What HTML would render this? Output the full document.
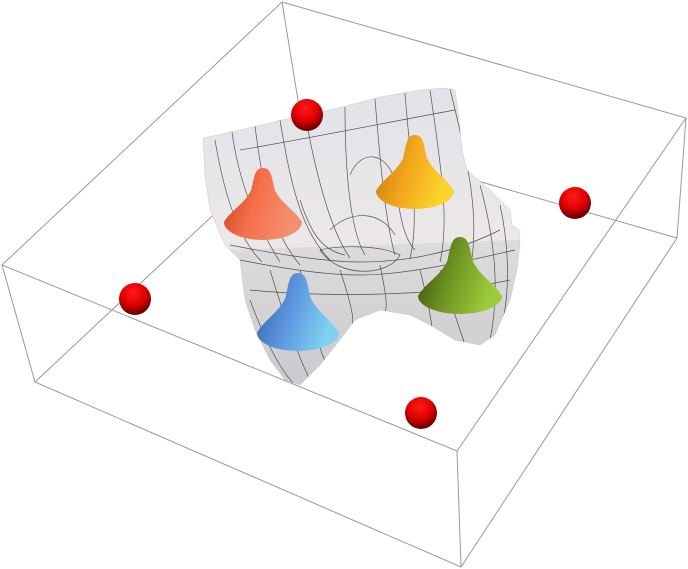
<!DOCTYPE html>
<html><head><meta charset="utf-8"><style>
html,body{margin:0;padding:0;background:#fff;}
svg{display:block;font-family:"Liberation Sans",sans-serif;}
</style></head><body>
<svg id="chart" width="688" height="569" viewBox="0 0 688 569">
<defs>
<radialGradient id="gSphere" cx="0.45" cy="0.3" r="0.7">
<stop offset="0" stop-color="#ff1a1a"/><stop offset="0.55" stop-color="#e00000"/><stop offset="1" stop-color="#600000"/></radialGradient>
<linearGradient id="gSurf" x1="0" y1="0" x2="0" y2="1">
<stop offset="0" stop-color="#e2e2e8"/><stop offset="0.5" stop-color="#ece8e8"/><stop offset="1" stop-color="#d2d0d4"/></linearGradient>
<linearGradient id="gRed" x1="0" y1="0" x2="1" y2="0.3"><stop offset="0" stop-color="#c8401e"/><stop offset="0.5" stop-color="#f6704c"/><stop offset="1" stop-color="#f29070"/></linearGradient>
<linearGradient id="gOrange" x1="0" y1="0" x2="1" y2="0.3"><stop offset="0" stop-color="#c07806"/><stop offset="0.5" stop-color="#f2a61c"/><stop offset="1" stop-color="#fbd52c"/></linearGradient>
<linearGradient id="gGreen" x1="0" y1="0" x2="1" y2="0.3"><stop offset="0" stop-color="#35460a"/><stop offset="0.5" stop-color="#6f9422"/><stop offset="1" stop-color="#9ccc3a"/></linearGradient>
<linearGradient id="gBlue" x1="0" y1="0" x2="1" y2="0.3"><stop offset="0" stop-color="#2e5ca8"/><stop offset="0.5" stop-color="#5e95e0"/><stop offset="1" stop-color="#7ed2f0"/></linearGradient>
<clipPath id="surfClip"><path d="M203,138 L240,130 L290,118 L330,110 L380,97 L420,90 L445,88 L455,90 L458,110 L462,150 L467,170 L490,190 L510,210 L512,225 L519,230 L520,245 L517,270 L510,300 L495,335 L480,345 L455,340 L430,325 L410,315 L380,310 L355,320 L340,340 L320,365 L300,385 L285,380 L270,360 L255,330 L245,300 L240,260 L225,245 L210,210 L205,175 Z"/></clipPath>
</defs>
<g id="box-back" stroke="#999" stroke-width="1" fill="none">
<line x1="35" y1="382" x2="303" y2="131"/><line x1="677" y1="238" x2="303" y2="131"/><line x1="282" y1="2" x2="303" y2="131"/>
</g>
<g id="surface">
<path d="M203,138 L240,130 L290,118 L330,110 L380,97 L420,90 L445,88 L455,90 L458,110 L462,150 L467,170 L490,190 L510,210 L512,225 L519,230 L520,245 L517,270 L510,300 L495,335 L480,345 L455,340 L430,325 L410,315 L380,310 L355,320 L340,340 L320,365 L300,385 L285,380 L270,360 L255,330 L245,300 L240,260 L225,245 L210,210 L205,175 Z" fill="url(#gSurf)" stroke="#ccc" stroke-width="0.5"/>
<g clip-path="url(#surfClip)">
<path d="M230,250 L520,240 L520,400 L230,400 Z" fill="#b8b6bc" opacity="0.25"/>
<g id="mesh" stroke="#222" stroke-width="0.7" fill="none" opacity="0.75"></g>
</g>
</g>
<g id="cones"></g>
<g id="spheres"></g>
<g id="box-front" stroke="#999" stroke-width="1" fill="none">
<polygon points="282,2 686,118 457,451 2,265"/>
<polyline points="2,265 35,382 461,567 677,238 686,118"/>
<line x1="457" y1="451" x2="461" y2="567"/>
</g>
</svg>
<script>
// Red sphere markers (screen-space projected positions)
var sphereX = [307, 575, 135, 421];
var sphereY = [115, 203, 299, 413];
var sphereR = 16;
// Cone peaks
var coneNames = ['red', 'orange', 'green', 'blue'];
var coneX = [263, 415, 460, 298];
var coneBaseY = [222, 191, 296, 333];
var conePeakY = [168, 135, 237, 273];
var coneRx = [39, 39, 42, 41];
var coneFill = ['url(#gRed)', 'url(#gOrange)', 'url(#gGreen)', 'url(#gBlue)'];
var NS = 'http://www.w3.org/2000/svg';

var mesh = document.getElementById('mesh');
var meshD = [
'M215,140 C225,200 240,240 262,262','M232,132 C240,190 260,230 280,262','M255,126 C262,180 270,230 300,265',
'M280,120 C290,180 300,230 330,260','M305,114 C315,170 330,230 350,258','M345,107 C345,170 350,230 365,255',
'M375,99 C380,160 385,220 395,255','M405,93 C410,160 420,220 410,258','M430,90 C440,160 450,220 440,262',
'M450,89 C470,170 480,220 470,270','M480,185 C495,240 500,290 490,340','M500,205 C510,250 510,300 500,330',
'M250,300 C265,340 280,370 295,385','M270,270 C285,320 300,360 310,380','M300,270 C315,320 320,355 325,360',
'M340,270 C350,300 355,320 352,325','M380,265 C385,290 388,305 385,312','M420,270 C425,290 430,310 432,328',
'M440,270 C450,300 460,330 465,345','M230,245 C280,255 330,262 360,262 C400,262 450,255 500,230',
'M240,260 C290,270 330,275 360,275 C400,275 450,265 515,250','M320,250 C340,245 380,245 400,255 C390,275 340,280 320,250',
'M330,230 C350,210 380,210 395,235','M350,175 C360,150 385,150 395,180 C400,220 405,240 415,250',
'M300,200 C310,230 320,250 345,255','M250,290 C300,295 420,300 510,280','M240,150 C300,140 400,120 455,110'];
meshD.forEach(function(d){
  var p = document.createElementNS(NS, 'path');
  p.setAttribute('d', d);
  
  
  mesh.appendChild(p);
});

var cones = document.getElementById('cones');
for (var i = 0; i < coneX.length; i++) {
  var cx = coneX[i], by = coneBaseY[i], py = conePeakY[i], rx = coneRx[i], ry = 18, h = by - py;
  var d = 'M' + (cx - rx) + ',' + by +
    ' C' + (cx - rx * 0.85) + ',' + (by - h * 0.2) + ' ' + (cx - rx * 0.45) + ',' + (by - h * 0.35) + ' ' + (cx - rx * 0.3) + ',' + (by - h * 0.6) +
    ' C' + (cx - rx * 0.22) + ',' + (py + 8) + ' ' + (cx - 8) + ',' + (py) + ' ' + cx + ',' + py +
    ' C' + (cx + 8) + ',' + py + ' ' + (cx + rx * 0.22) + ',' + (py + 8) + ' ' + (cx + rx * 0.3) + ',' + (by - h * 0.6) +
    ' C' + (cx + rx * 0.45) + ',' + (by - h * 0.35) + ' ' + (cx + rx * 0.85) + ',' + (by - h * 0.2) + ' ' + (cx + rx) + ',' + by +
    ' A' + rx + ',' + ry + ' 0 0 1 ' + (cx - rx) + ',' + by + ' Z';
  var p = document.createElementNS(NS, 'path');
  p.setAttribute('d', d);
  p.setAttribute('fill', coneFill[i]);
  
  
  cones.appendChild(p);
}

var spheres = document.getElementById('spheres');
for (var j = 0; j < sphereX.length; j++) {
  var c = document.createElementNS(NS, 'circle');
  c.setAttribute('cx', sphereX[j]);
  c.setAttribute('cy', sphereY[j]);
  c.setAttribute('r', sphereR);
  c.setAttribute('fill', 'url(#gSphere)');
  
  
  spheres.appendChild(c);
}
</script>
</body></html>
